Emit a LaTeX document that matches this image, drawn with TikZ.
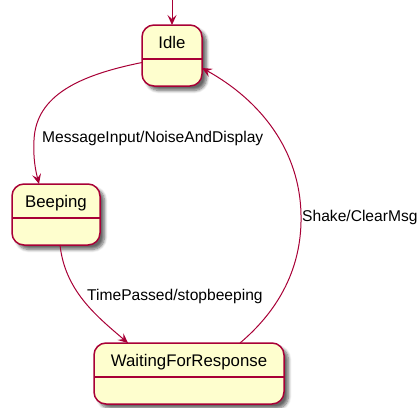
\documentclass[tikz,border=0pt]{standalone}
\usepackage{fontspec}
\setmainfont{Liberation Sans}
\usetikzlibrary{arrows.meta,shadows.blur,calc}
\definecolor{umlred}{HTML}{A80036}
\definecolor{umlfill}{HTML}{FEFECE}
\begin{document}
\begin{tikzpicture}[x=1pt,y=-1pt,
  statebox/.style={draw=umlred, line width=1.5pt, fill=umlfill,
    rounded corners=12pt, inner sep=0pt, outer sep=0pt,
    blur shadow={shadow xshift=4.5pt, shadow yshift=-4.5pt,
      shadow blur radius=3pt, shadow blur steps=8, shadow opacity=60}},
  divider/.style={draw=umlred, line width=1.5pt},
  statename/.style={font=\fontsize{16.8}{20}\selectfont, inner sep=0pt, anchor=base},
  trans/.style={draw=umlred, line width=1pt,
    -{Stealth[length=10pt,width=9pt,inset=4pt]}},
  translabel/.style={font=\fontsize{15.6}{18}\selectfont, inner sep=0pt, anchor=base west}]
\useasboundingbox (0,0) rectangle (417,407);

% states
\node[statebox, minimum width=60pt, minimum height=61pt] (idle) at (172,55.5) {};
\node[statebox, minimum width=88pt, minimum height=61pt] (beep) at (56,214.5) {};
\node[statebox, minimum width=190pt, minimum height=61pt] (wait) at (189,373.5) {};

\foreach \s in {idle,beep,wait}
  \draw[divider] ([yshift=-34pt]\s.north west) -- ([yshift=-34pt]\s.north east);

\node[statename] (idlename) at ($(idle.north)+(0,23)$) {Idle};
\node[statename] (beepname) at ($(beep.north)+(0,23)$) {Beeping};
\node[statename] (waitname) at ($(wait.north)+(0,23)$) {WaitingForResponse};

% initial transition
\coordinate (init) at (172,0);
\draw[trans] (init) -- (idle.north);

% transitions
\draw[trans] ([yshift=-7pt]idle.west)
  .. controls (80,75) and (36,95) .. (34,140)
  .. controls (33,160) and (36,172) .. ([xshift=-17pt]beep.north);
\draw[trans] ([xshift=4pt]beep.south)
  .. controls (65,290) and (95,315) .. ([xshift=-61pt]wait.north);
\draw[trans] ([xshift=51pt]wait.north)
  .. controls (285,305) and (302,260) .. (301,215)
  .. controls (300,150) and (260,100) .. ([yshift=-12.5pt]idle.east);

% transition labels
\node[translabel] (lmsg) at (42,142.5) {MessageInput/NoiseAndDisplay};
\node[translabel] (ltime) at (87,300) {TimePassed/stopbeeping};
\node[translabel] (lshake) at (302,221) {Shake/ClearMsg};
\end{tikzpicture}
\end{document}
